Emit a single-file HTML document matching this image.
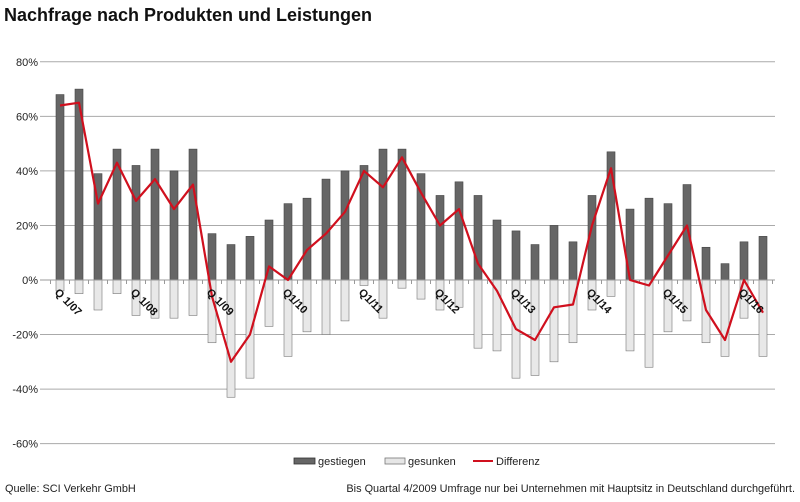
<!DOCTYPE html>
<html><head><meta charset="utf-8"><style>body{margin:0;background:#fff}svg{display:block}</style></head><body>
<svg id="c" width="800" height="502" xmlns="http://www.w3.org/2000/svg" font-family="Liberation Sans, Arial, sans-serif">
<text x="4" y="21" font-size="18" font-weight="bold" fill="#111">Nachfrage nach Produkten und Leistungen</text>
<g id="g"></g>
<g font-size="11" fill="#222">
<rect x="294" y="458" width="21" height="6" fill="#666" stroke="#333" stroke-width="0.8"/>
<text x="318" y="465">gestiegen</text>
<rect x="385" y="458" width="20" height="6" fill="#e6e6e6" stroke="#777" stroke-width="0.8"/>
<text x="408" y="465">gesunken</text>
<line x1="473" y1="461" x2="493" y2="461" stroke="#d0101e" stroke-width="2"/>
<text x="496" y="465">Differenz</text>
</g>
<g font-size="10.9" fill="#222">
<text x="5" y="492">Quelle: SCI Verkehr GmbH</text>
<text x="795" y="492" text-anchor="end">Bis Quartal 4/2009 Umfrage nur bei Unternehmen mit Hauptsitz in Deutschland durchgeführt.</text>
</g>
</svg>
<script>
var up=[68,70,39,48,42,48,40,48,17,13,16,22,28,30,37,40,42,48,48,39,31,36,31,22,18,13,20,14,31,47,26,30,28,35,12,6,14,16];
var dn=[-4,-5,-11,-5,-13,-14,-14,-13,-23,-43,-36,-17,-28,-19,-20,-15,-2,-14,-3,-7,-11,-10,-25,-26,-36,-35,-30,-23,-11,-6,-26,-32,-19,-15,-23,-28,-14,-28];
var df=[64,65,28,43,29,37,26,35,-6,-30,-20,5,0,11,17,25,40,34,45,32,20,26,6,-4,-18,-22,-10,-9,20,41,0,-2,9,20,-11,-22,0,-12];
function Y(v){return 280-v*2.727;}
function X(i){return 60+i*19;}
var s='';
for(var v=80;v>=-60;v-=20){var y=Y(v).toFixed(1);
 if(v!=0)s+='<line x1="40" x2="775" y1="'+y+'" y2="'+y+'" stroke="#aaa" stroke-width="1"/>';
 s+='<text x="38" y="'+(+y+4)+'" font-size="11" text-anchor="end" fill="#222">'+v+'%</text>';}
for(var i=0;i<38;i++){var x=X(i)-4;
 s+='<rect x="'+x+'" y="'+Y(up[i])+'" width="8" height="'+(280-Y(up[i]))+'" fill="#666" stroke="#444" stroke-width="0.6"/>';
 s+='<rect x="'+x+'" y="280" width="8" height="'+(Y(dn[i])-280)+'" fill="#e8e8e8" stroke="#777" stroke-width="0.6"/>';}
s+='<line x1="40" x2="775" y1="280" y2="280" stroke="#999" stroke-width="1"/>';
for(var i=0;i<=38;i++){var x=X(i)-9.5;s+='<line x1="'+x+'" x2="'+x+'" y1="280" y2="284" stroke="#999"/>';}
var p='';for(var i=0;i<38;i++)p+=(i?'L':'M')+X(i)+' '+Y(df[i]).toFixed(1);
s+='<path d="'+p+'" fill="none" stroke="#d0101e" stroke-width="2.2" stroke-linejoin="round"/>';
var lb=['Q 1/07','Q 1/08','Q 1/09','Q1/10','Q1/11','Q1/12','Q1/13','Q1/14','Q1/15','Q1/16'];
for(var k=0;k<10;k++){var x=X(k*4)-6,y=293;
 s+='<text x="'+x+'" y="'+y+'" font-size="11" font-weight="bold" fill="#111" transform="rotate(45 '+x+' '+y+')">'+lb[k]+'</text>';}
document.getElementById('g').innerHTML=s;
</script>
</body></html>
